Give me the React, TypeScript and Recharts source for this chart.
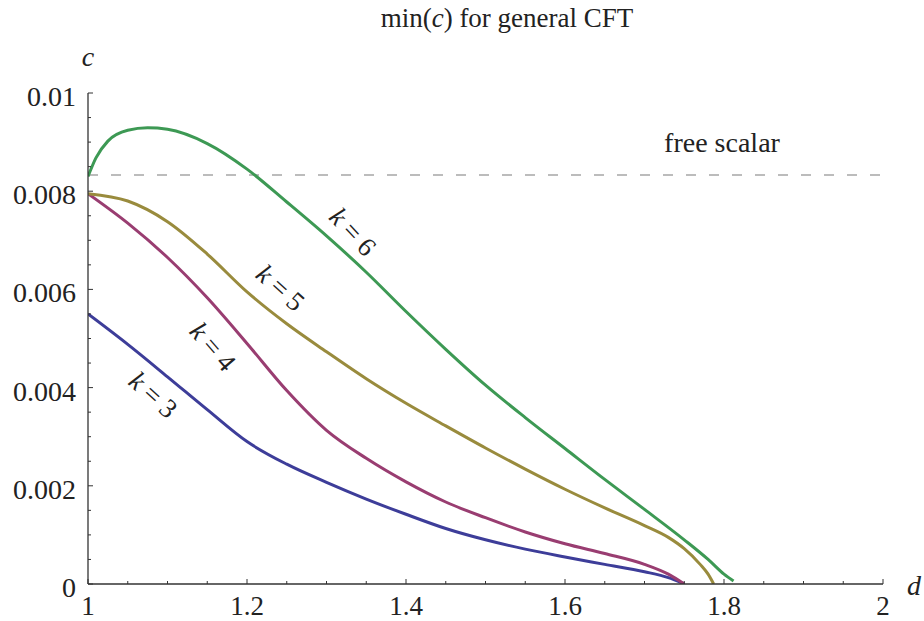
import React from "react"
import { LineChart, Line, XAxis, YAxis, ReferenceLine, ReferenceDot } from "recharts"

// curves, d vs min(c)
const k3 = [
  { d: 1.0, c: 0.0055 }, { d: 1.05, c: 0.00488 }, { d: 1.1, c: 0.00422 }, { d: 1.15, c: 0.00355 },
  { d: 1.2, c: 0.0029 }, { d: 1.25, c: 0.00244 }, { d: 1.3, c: 0.00207 }, { d: 1.35, c: 0.00173 },
  { d: 1.4, c: 0.00142 }, { d: 1.45, c: 0.00113 }, { d: 1.5, c: 0.0009 }, { d: 1.55, c: 0.00071 },
  { d: 1.6, c: 0.00055 }, { d: 1.65, c: 0.0004 }, { d: 1.7, c: 0.00025 }, { d: 1.73, c: 0.00013 },
  { d: 1.75, c: 0 },
]
const k4 = [
  { d: 1.0, c: 0.00795 }, { d: 1.05, c: 0.00735 }, { d: 1.1, c: 0.00665 }, { d: 1.15, c: 0.00583 },
  { d: 1.2, c: 0.0049 }, { d: 1.25, c: 0.00394 }, { d: 1.3, c: 0.00313 }, { d: 1.35, c: 0.00256 },
  { d: 1.4, c: 0.00208 }, { d: 1.45, c: 0.00167 }, { d: 1.5, c: 0.00135 }, { d: 1.55, c: 0.00106 },
  { d: 1.6, c: 0.00082 }, { d: 1.65, c: 0.00062 }, { d: 1.7, c: 0.0004 }, { d: 1.73, c: 0.0002 },
  { d: 1.75, c: 0 },
]
const k5 = [
  { d: 1.0, c: 0.00795 }, { d: 1.05, c: 0.0078 }, { d: 1.1, c: 0.00738 }, { d: 1.15, c: 0.00672 },
  { d: 1.2, c: 0.00595 }, { d: 1.25, c: 0.0053 }, { d: 1.3, c: 0.00473 }, { d: 1.35, c: 0.00418 },
  { d: 1.4, c: 0.00368 }, { d: 1.45, c: 0.00322 }, { d: 1.5, c: 0.00277 }, { d: 1.55, c: 0.00234 },
  { d: 1.6, c: 0.00193 }, { d: 1.65, c: 0.00155 }, { d: 1.7, c: 0.00119 }, { d: 1.73, c: 0.00095 },
  { d: 1.75, c: 0.00072 }, { d: 1.77, c: 0.0004 }, { d: 1.78, c: 0.0002 }, { d: 1.787, c: 0 },
]
const k6 = [
  { d: 1.0, c: 0.0083 }, { d: 1.01, c: 0.00868 }, { d: 1.025, c: 0.00902 }, { d: 1.05, c: 0.00924 },
  { d: 1.075, c: 0.00929 }, { d: 1.1, c: 0.00926 }, { d: 1.15, c: 0.00897 }, { d: 1.2, c: 0.00845 },
  { d: 1.25, c: 0.00778 }, { d: 1.3, c: 0.00709 }, { d: 1.35, c: 0.00635 }, { d: 1.4, c: 0.00555 },
  { d: 1.45, c: 0.00478 }, { d: 1.5, c: 0.00405 }, { d: 1.55, c: 0.00339 }, { d: 1.6, c: 0.00276 },
  { d: 1.65, c: 0.00213 }, { d: 1.7, c: 0.00152 }, { d: 1.75, c: 0.0009 }, { d: 1.78, c: 0.0005 },
  { d: 1.8, c: 0.0002 }, { d: 1.812, c: 0.00006 },
]
const freeScalar = 0.00833

const xMajor = [1, 1.2, 1.4, 1.6, 1.8, 2]
const xMinor = [1.05, 1.1, 1.15, 1.25, 1.3, 1.35, 1.45, 1.5, 1.55, 1.65, 1.7, 1.75, 1.85, 1.9, 1.95]
const yMajor = [0, 0.002, 0.004, 0.006, 0.008, 0.01]
const yMinor = [0.0005, 0.001, 0.0015, 0.0025, 0.003, 0.0035, 0.0045, 0.005, 0.0055,
  0.0065, 0.007, 0.0075, 0.0085, 0.009, 0.0095]

const FONT = "'Liberation Serif', 'DejaVu Serif', serif"
const INK = "#222"
const AXIS = "#333"
const serif = { fontFamily: FONT }

const XTick = ({ x, y, payload }: any) => {
  const major = xMajor.includes(payload.value)
  return (
    <g>
      <line x1={x} x2={x} y1={y} y2={y - (major ? 5 : 3)} stroke={AXIS} strokeWidth={1} />
      {major && (
        <text x={x} y={y + 31} textAnchor="middle" style={serif} fontSize={27} fill={INK}>
          {String(payload.value)}
        </text>
      )}
    </g>
  )
}

const YTick = ({ x, y, payload }: any) => {
  const major = yMajor.includes(payload.value)
  return (
    <g>
      <line x1={x} x2={x + (major ? 5 : 3)} y1={y} y2={y} stroke={AXIS} strokeWidth={1} />
      {major && (
        <text x={x - 12} y={y + 13} textAnchor="end" style={serif} fontSize={28} fill={INK}>
          {String(payload.value)}
        </text>
      )}
    </g>
  )
}

const curveLabel = (k: string, angle: number) => (props: any) => {
  const { x, y, width, height } = props.viewBox
  const cx = x + width / 2
  const cy = y + height / 2
  return (
    <text
      transform={`translate(${cx},${cy}) rotate(${angle})`}
      textAnchor="middle"
      dominantBaseline="central"
      style={serif}
      fontSize={27}
      fill={INK}
    >
      <tspan fontStyle="italic">k</tspan>
      <tspan> = {k}</tspan>
    </text>
  )
}

const textLabel = (txt: string) => (props: any) => {
  const { x, y, width, height } = props.viewBox
  return (
    <text
      x={x + width / 2}
      y={y + height / 2}
      textAnchor="middle"
      dominantBaseline="central"
      style={serif}
      fontSize={28}
      fill={INK}
    >
      {txt}
    </text>
  )
}

export default function App() {
  return (
    <div style={{ position: "absolute", left: 0, top: 0, width: 924, height: 621, background: "#fff" }}>
      <LineChart width={924} height={621} margin={{ top: 93, right: 41, bottom: 0, left: 0 }}>
        <XAxis
          type="number"
          dataKey="d"
          domain={[1, 2]}
          ticks={[...xMajor, ...xMinor].sort((a, b) => a - b)}
          interval={0}
          height={37}
          tickSize={0}
          tickMargin={0}
          tickLine={false}
          tick={<XTick />}
          axisLine={{ stroke: AXIS, strokeWidth: 1.3 }}
          allowDataOverflow
        />
        <YAxis
          type="number"
          domain={[0, 0.01]}
          ticks={[...yMajor, ...yMinor].sort((a, b) => a - b)}
          interval={0}
          width={88}
          tickSize={0}
          tickMargin={0}
          tickLine={false}
          tick={<YTick />}
          axisLine={{ stroke: AXIS, strokeWidth: 1.3 }}
          allowDataOverflow
        />
        <ReferenceLine y={freeScalar} stroke="#a6a6a6" strokeWidth={1.5} strokeDasharray="10 13" />
        <Line data={k3} dataKey="c" type="monotone" stroke="#3d3d99" strokeWidth={3} dot={false} isAnimationActive={false} />
        <Line data={k4} dataKey="c" type="monotone" stroke="#993d71" strokeWidth={3} dot={false} isAnimationActive={false} />
        <Line data={k5} dataKey="c" type="monotone" stroke="#998b3d" strokeWidth={3} dot={false} isAnimationActive={false} />
        <Line data={k6} dataKey="c" type="monotone" stroke="#3d9954" strokeWidth={3} dot={false} isAnimationActive={false} />
        <ReferenceDot x={1.082} y={0.00385} r={1} fill="none" stroke="none" label={curveLabel("3", 42)} />
        <ReferenceDot x={1.157} y={0.00483} r={1} fill="none" stroke="none" label={curveLabel("4", 49)} />
        <ReferenceDot x={1.242} y={0.00603} r={1} fill="none" stroke="none" label={curveLabel("5", 42)} />
        <ReferenceDot x={1.333} y={0.00717} r={1} fill="none" stroke="none" label={curveLabel("6", 47)} />
        <ReferenceDot x={1.7975} y={0.009} r={1} fill="none" stroke="none" label={textLabel("free scalar")} />
      </LineChart>
      <svg width={924} height={621} style={{ position: "absolute", left: 0, top: 0, pointerEvents: "none" }}>
        <text x={507} y={27} textAnchor="middle" style={serif} fontSize={27} fill={INK}>
          min(<tspan fontStyle="italic">c</tspan>) for general CFT
        </text>
        <text x={88} y={66} textAnchor="middle" style={serif} fontSize={28} fontStyle="italic" fill={INK}>c</text>
        <text x={914} y={595} textAnchor="middle" style={serif} fontSize={28} fontStyle="italic" fill={INK}>d</text>
      </svg>
    </div>
  )
}
